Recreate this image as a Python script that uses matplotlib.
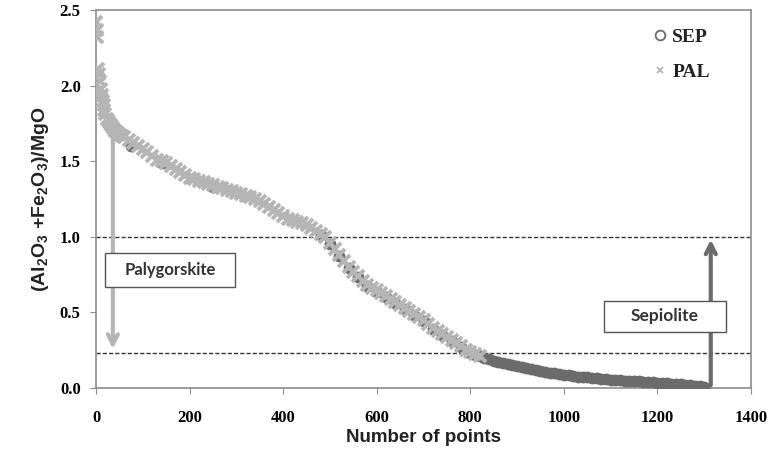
import numpy as np
import matplotlib
matplotlib.use('Agg')
import matplotlib.pyplot as plt
from matplotlib.lines import Line2D
from matplotlib.patches import Rectangle

# ---- data (point index, ratio) ----
pal_n = [1, 2, 3, 4, 6, 8, 10, 12, 14, 16, 18, 20, 24, 28, 32, 36, 40, 45, 50, 55, 60,
         70, 80, 90, 100, 110, 120, 130, 140, 150, 160, 170, 180, 190, 200,
         210, 220, 230, 240, 250, 260, 270, 280, 290, 300, 310, 320, 330, 340, 350,
         360, 370, 380, 390, 400, 410, 420, 430, 440, 450, 460, 470, 480, 490, 500,
         510, 520, 530, 540, 550, 560, 570, 580, 590, 600, 610, 620, 630, 640, 650,
         660, 670, 680, 690, 700, 710, 720, 730, 740, 750, 760, 770, 780, 790, 800,
         810, 820]
pal_ratio = [2.42, 2.37, 2.32, 2.11, 2.08, 2.03, 1.98, 1.94, 1.90, 1.87, 1.84, 1.81, 1.78, 1.76,
             1.74, 1.72, 1.70, 1.69, 1.68, 1.67, 1.66,
             1.64, 1.62, 1.60, 1.58, 1.56, 1.535, 1.51, 1.50, 1.49, 1.47, 1.45, 1.43, 1.41, 1.39,
             1.38, 1.37, 1.36, 1.35, 1.34, 1.33, 1.32, 1.31, 1.30, 1.29, 1.28, 1.27, 1.26, 1.25, 1.24,
             1.22, 1.20, 1.18, 1.16, 1.14, 1.12, 1.11, 1.10, 1.09, 1.08, 1.06, 1.04, 1.02, 1.00, 0.96,
             0.92, 0.88, 0.84, 0.80, 0.77, 0.74, 0.71, 0.68, 0.66, 0.645, 0.63, 0.61, 0.59, 0.57, 0.55,
             0.53, 0.51, 0.49, 0.47, 0.45, 0.42, 0.40, 0.38, 0.36, 0.34, 0.32, 0.30, 0.28, 0.25, 0.235,
             0.225, 0.21]

sep_n = [45, 75, 140, 250, 480, 500, 520, 540, 560, 580, 600, 620, 640, 660, 680, 700,
         720, 740, 760, 780, 800, 810, 820, 830, 840, 850, 860, 870, 880, 890, 900,
         910, 920, 930, 940, 950, 960, 970, 980, 990, 1000, 1010, 1020, 1030, 1040, 1050,
         1060, 1070, 1080, 1090, 1100, 1110, 1120, 1130, 1140, 1150, 1160, 1170, 1180, 1190,
         1200, 1210, 1220, 1230, 1240, 1250, 1260, 1270, 1280, 1290, 1300]
sep_ratio = [1.71, 1.60, 1.49, 1.33, 1.01, 0.955, 0.875, 0.795, 0.735, 0.675, 0.635, 0.60, 0.56,
             0.52, 0.48, 0.44, 0.39, 0.35, 0.31, 0.27, 0.23, 0.22, 0.21, 0.20, 0.19, 0.18, 0.17,
             0.165, 0.158, 0.15, 0.143, 0.137, 0.13, 0.124, 0.118, 0.112, 0.107, 0.102, 0.097,
             0.092, 0.088, 0.084, 0.080, 0.076, 0.073, 0.070, 0.067, 0.064, 0.061, 0.058, 0.055,
             0.053, 0.051, 0.049, 0.047, 0.045, 0.043, 0.041, 0.039, 0.037, 0.035, 0.033, 0.031,
             0.029, 0.027, 0.025, 0.022, 0.019, 0.015, 0.010, 0.005]

limit_levels = [1.0, 0.23]
x_ticks = [0, 200, 400, 600, 800, 1000, 1200, 1400]
y_ticks = [0.0, 0.5, 1.0, 1.5, 2.0, 2.5]

SEP_COL = '#6b6b6b'
PAL_COL = '#b5b5b5'
FRAME_COL = '#8c8c8c'

fig = plt.figure(figsize=(7.7, 4.51), dpi=100)
ax = fig.add_axes([0.1247, 0.1397, 0.8506, 0.8381])

# series: SEP drawn first, PAL over it (like the spreadsheet)
ax.plot(sep_n, sep_ratio, 'o', ms=7.5, mfc=SEP_COL, mec=SEP_COL, mew=1, zorder=3)
ax.plot(pal_n, pal_ratio, 'x', ms=8, mec=PAL_COL, mew=2.8, zorder=4)

# limit lines
for lev in limit_levels:
    ax.axhline(lev, color='#333333', lw=1, ls=(0, (3, 1.5)), zorder=2)

# arrows
ax.annotate('', xy=(36, 0.24), xytext=(36, 1.69),
            arrowprops=dict(arrowstyle='->', color=PAL_COL, lw=3, mutation_scale=18),
            zorder=5)
ax.annotate('', xy=(1314, 1.0), xytext=(1314, 0.0),
            arrowprops=dict(arrowstyle='->', color=SEP_COL, lw=3, mutation_scale=18),
            zorder=5)

# label boxes
ax.add_patch(Rectangle((19, 0.67), 278, 0.224, facecolor='white', edgecolor='#555555',
                       lw=1, zorder=6))
ax.text(158, 0.782, 'Palygorskite', ha='center', va='center', fontsize=12,
        fontweight='bold', family='Lato', color='#333333', zorder=7)
ax.add_patch(Rectangle((1085, 0.37), 261, 0.206, facecolor='white', edgecolor='#555555',
                       lw=1, zorder=6))
ax.text(1215, 0.473, 'Sepiolite', ha='center', va='center', fontsize=12.5,
        fontweight='bold', family='Lato', color='#333333', zorder=7)

# legend
handles = [Line2D([], [], ls='none', marker='o', ms=7, mfc='none', mec=SEP_COL, mew=1.3),
           Line2D([], [], ls='none', marker='x', ms=5, mec=PAL_COL, mew=1.3)]
leg = ax.legend(handles, ['SEP', 'PAL'], loc='upper right', frameon=False,
                prop={'family': 'Liberation Serif', 'weight': 'bold', 'size': 14},
                handlelength=0.6, handletextpad=0.35, labelspacing=0.9,
                bbox_to_anchor=(0.964, 0.998))
for t in leg.get_texts():
    t.set_color('#222222')

ax.set_xlim(0, 1400)
ax.set_ylim(0, 2.5)
ax.set_xticks(x_ticks)
ax.set_yticks(y_ticks)
ax.set_xticklabels([str(v) for v in x_ticks], family='Liberation Serif',
                   fontweight='bold', fontsize=12)
ax.set_yticklabels(['%.1f' % v for v in y_ticks], family='Liberation Serif',
                   fontweight='bold', fontsize=12)
ax.tick_params(direction='out', length=4, color=FRAME_COL)
ax.tick_params(axis='x', pad=12)
ax.tick_params(axis='y', pad=7)

for s in ax.spines.values():
    s.set_color(FRAME_COL)
    s.set_linewidth(1.2)

ax.set_xlabel('Number of points', family='Liberation Sans', fontweight='bold',
              fontsize=13.5, color='#222222', labelpad=2)
ax.set_ylabel(r'(Al$_\mathregular{2}$O$_\mathregular{3}$ +Fe$_\mathregular{2}$O$_\mathregular{3}$)/MgO',
              family='Liberation Sans', fontweight='bold', fontsize=14,
              color='#222222', labelpad=6)

fig.savefig('out.png', dpi=100)
